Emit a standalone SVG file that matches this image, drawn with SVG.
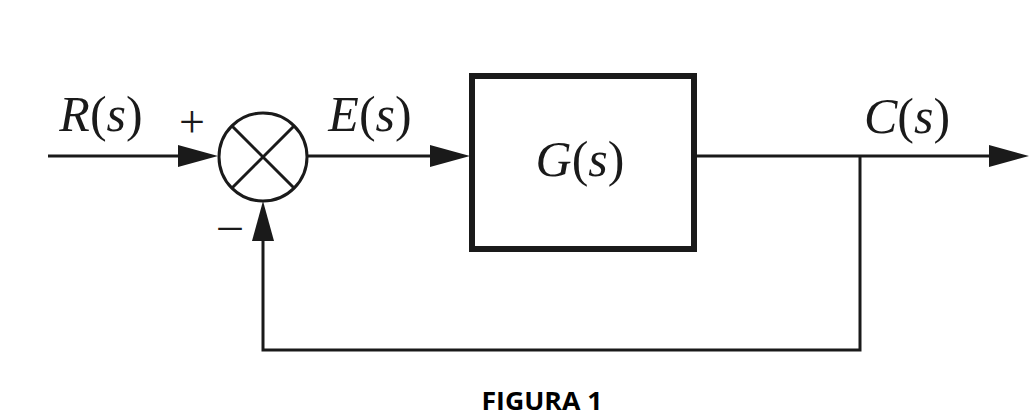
<svg xmlns="http://www.w3.org/2000/svg" width="1036" height="420" viewBox="0 0 1036 420">
<defs>
<style>
.ln{fill:none;stroke:#1a1a1a;stroke-width:3}
.lbl{font-family:'Liberation Serif','DejaVu Serif',serif;font-size:50px;fill:#1a1a1a}
.it{font-style:italic}
.sign{font-family:'Liberation Serif','DejaVu Serif',serif;font-size:46px;fill:#1a1a1a}
.cap{font-family:'Open Sans','Liberation Sans',sans-serif;font-weight:bold;font-size:25px;fill:#000}
</style>
<marker id="ah" markerUnits="userSpaceOnUse" markerWidth="40" markerHeight="22" refX="30" refY="11" orient="auto" viewBox="0 0 40 22">
<path d="M0,0 L40,11 L0,22 z" fill="#1a1a1a"/>
</marker>
</defs>
<rect width="1036" height="420" fill="#fff"/>
<g id="connectors">
<path class="ln" d="M48,156 H208" marker-end="url(#ah)"/>
<path class="ln" d="M307,156 H460" marker-end="url(#ah)"/>
<path class="ln" d="M696,156 H1019" marker-end="url(#ah)"/>
<path class="ln" d="M860,156 V350 H263 V211" marker-end="url(#ah)"/>
</g>
<g id="sum">
<circle class="ln" cx="263" cy="157" r="44"/>
<path class="ln" d="M232,126 L294,188 M294,126 L232,188"/>
<text class="sign" x="192" y="137" text-anchor="middle">+</text>
<text class="sign" x="230" y="240" text-anchor="middle">–</text>
</g>
<g id="G">
<rect x="472" y="76" width="222" height="173" fill="none" stroke="#1a1a1a" stroke-width="6"/>
<text class="lbl" x="580" y="176" text-anchor="middle"><tspan class="it">G</tspan>(<tspan class="it">s</tspan>)</text>
</g>
<g id="labels">
<text class="lbl" x="101" y="131" text-anchor="middle"><tspan class="it">R</tspan>(<tspan class="it">s</tspan>)</text>
<text class="lbl" x="370" y="131" text-anchor="middle"><tspan class="it">E</tspan>(<tspan class="it">s</tspan>)</text>
<text class="lbl" x="907" y="133" text-anchor="middle"><tspan class="it">C</tspan>(<tspan class="it">s</tspan>)</text>
</g>
<text class="cap" x="542" y="410" text-anchor="middle" textLength="121" lengthAdjust="spacingAndGlyphs">FIGURA 1</text>
</svg>
